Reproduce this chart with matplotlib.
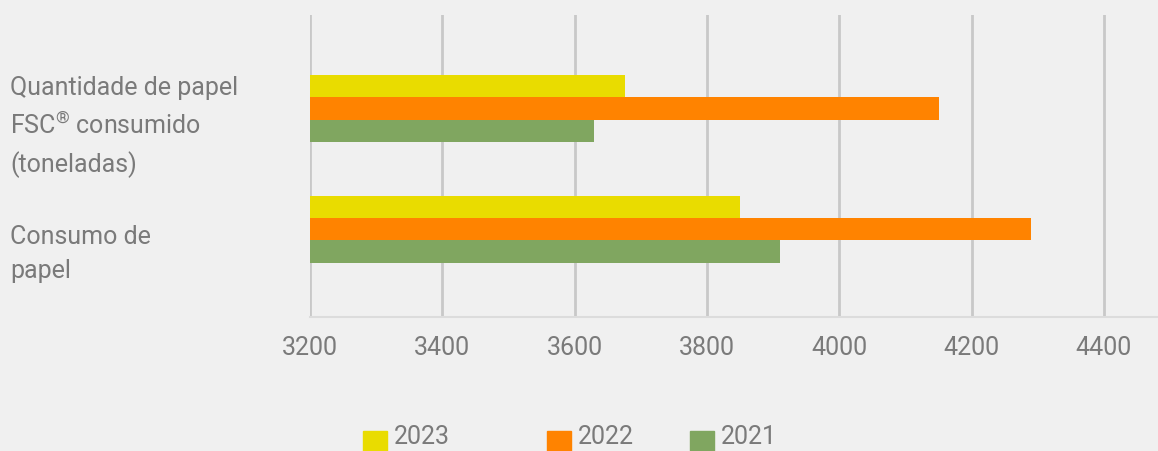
import matplotlib
matplotlib.use("Agg")
import matplotlib.pyplot as plt
from matplotlib.patches import Rectangle
import numpy as np

categories = ["Consumo de\npapel", "Quantidade de papel\nFSC$^{\u00ae}$ consumido\n(toneladas)"]
years = ["2023", "2022", "2021"]
values_2023 = [3850, 3676]
values_2022 = [4290, 4151]
values_2021 = [3910, 3629]
colors = ["#E9DC00", "#FF8300", "#80A660"]
xticks = [3200, 3400, 3600, 3800, 4000, 4200, 4400]

W, H = 1158, 451
bg = "#F0F0F0"
txt = "#7A7A7A"
plt.rcParams['font.family'] = ['Roboto', 'DejaVu Sans']
plt.rcParams['mathtext.fontset'] = 'custom'
plt.rcParams['mathtext.rm'] = 'Roboto'
plt.rcParams['mathtext.it'] = 'Roboto'
plt.rcParams['mathtext.default'] = 'rm'

fig = plt.figure(figsize=(W / 100, H / 100), dpi=100, facecolor=bg)
ax = fig.add_axes([310 / W, 1 - 317 / H, (W - 310) / W, (317 - 15) / H])
ax.set_facecolor(bg)

y = np.arange(len(categories))
h = 0.184
series = [values_2023, values_2022, values_2021]
for i, (vals, c) in enumerate(zip(series, colors)):
    ax.barh(y + (1 - i) * h, np.array(vals) - 3200, left=3200, height=h, color=c, zorder=3)

ax.set_xlim(3200, 3200 + (W - 310) / 0.6615)
ax.set_ylim(-0.726, 1.773)
ax.set_xticks(xticks)
ax.set_xticklabels([str(t) for t in xticks])
ax.tick_params(axis='x', length=0, pad=14, labelsize=18, labelcolor=txt)
ax.set_yticks([])
ax.grid(axis='x', color="#C8C8C8", linewidth=2, zorder=1)
for s in ["top", "right", "left"]:
    ax.spines[s].set_visible(False)
ax.spines["bottom"].set_color("#DCDCDC")
ax.spines["bottom"].set_linewidth(1.5)

# category labels
fig.text(10 / W, 1 - 127 / H, categories[1], ha='left', va='center', fontsize=18,
         color=txt, linespacing=1.55)
fig.text(10 / W, 1 - 254 / H, categories[0], ha='left', va='center', fontsize=18,
         color=txt, linespacing=1.5)

# legend
leg_x = [363, 547, 690]
for lx, lab, c in zip(leg_x, years, colors):
    fig.patches.append(Rectangle((lx / W, 1 - 455 / H), 24 / W, 24 / H,
                                 transform=fig.transFigure, color=c))
    fig.text((lx + 31) / W, 1 - 437 / H, lab, ha='left', va='center', fontsize=18, color=txt)

fig.savefig("out.png", dpi=100, facecolor=bg)
